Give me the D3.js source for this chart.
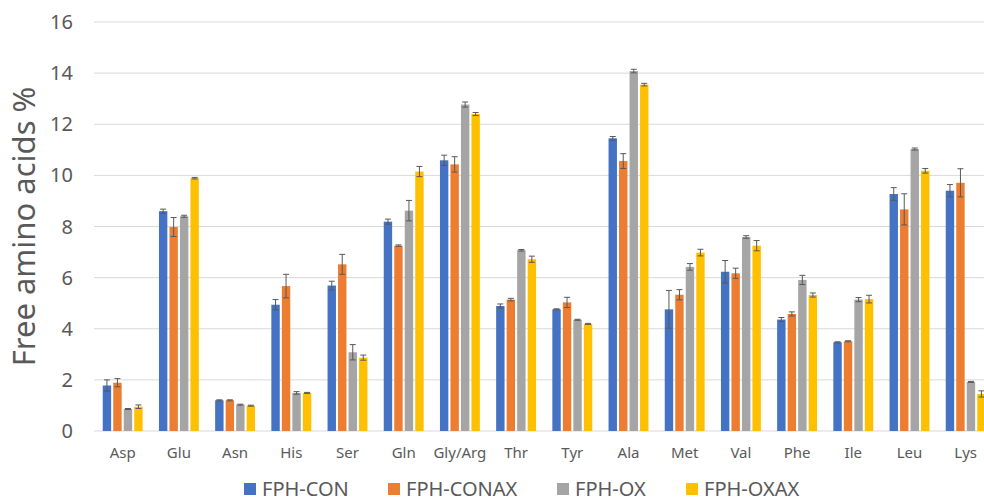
<!DOCTYPE html>
<html>
<head>
<meta charset="utf-8">
<script src="https://cdn.jsdelivr.net/npm/d3@7"></script>
<style>
  body{margin:0;background:#fff}
  svg{display:block;font-family:"Noto Sans",sans-serif}
</style>
</head>
<body>
<div id="chart"><svg></svg></div>
<script>
const categories = ['Asp','Glu','Asn','His','Ser','Gln','Gly/Arg','Thr','Tyr','Ala','Met','Val','Phe','Ile','Leu','Lys']
const seriesNames = ['FPH-CON','FPH-CONAX','FPH-OX','FPH-OXAX']
const con     = [1.78, 8.6, 1.2, 4.94, 5.69, 8.19, 10.59, 4.89, 4.76, 11.45, 4.76, 6.23, 4.36, 3.47, 9.27, 9.4]
const conErr  = [0.22, 0.08, 0.02, 0.2, 0.17, 0.1, 0.2, 0.08, 0.02, 0.07, 0.74, 0.44, 0.08, 0.02, 0.25, 0.24]
const conax   = [1.89, 7.98, 1.2, 5.67, 6.52, 7.25, 10.43, 5.14, 5.03, 10.56, 5.33, 6.17, 4.58, 3.51, 8.67, 9.71]
const conaxErr= [0.16, 0.37, 0.02, 0.46, 0.39, 0.03, 0.3, 0.05, 0.2, 0.29, 0.2, 0.2, 0.08, 0.02, 0.61, 0.55]
const ox      = [0.86, 8.4, 1.03, 1.49, 3.08, 8.62, 12.77, 7.07, 4.35, 14.08, 6.42, 7.59, 5.91, 5.14, 11.03, 1.92]
const oxErr   = [0.02, 0.04, 0.02, 0.05, 0.3, 0.4, 0.1, 0.03, 0.02, 0.07, 0.13, 0.05, 0.18, 0.08, 0.04, 0.02]
const oxax    = [0.95, 9.89, 0.99, 1.49, 2.87, 10.15, 12.4, 6.72, 4.19, 13.55, 6.98, 7.25, 5.32, 5.16, 10.18, 1.45]
const oxaxErr = [0.07, 0.03, 0.02, 0.02, 0.1, 0.2, 0.06, 0.12, 0.02, 0.05, 0.13, 0.2, 0.08, 0.15, 0.09, 0.12]
const yTicks = [0,2,4,6,8,10,12,14,16]
const colors = ['#4472C4','#ED7D31','#A5A5A5','#FFC000']

const width = 984, height = 503
const svg = d3.select('#chart').select('svg').attr('width',width).attr('height',height)

const values = [con, conax, ox, oxax]
const errs = [conErr, conaxErr, oxErr, oxaxErr]

const x = d3.scaleBand().domain(categories).range([94.6, 993.8]).paddingInner(0.29).paddingOuter(0.145)
const xs = d3.scaleBand().domain(seriesNames).range([0, x.bandwidth()]).paddingInner(0.2)
const y = d3.scaleLinear().domain([0,16]).range([431, 22])

// gridlines
svg.append('g').selectAll('line').data(yTicks).enter().append('line')
  .attr('x1',94).attr('x2',width)
  .attr('y1',d=>y(d)).attr('y2',d=>y(d))
  .attr('stroke','#d9d9d9').attr('stroke-width',1)

// y tick labels
svg.append('g').selectAll('text').data(yTicks).enter().append('text')
  .attr('x',73).attr('y',d=>y(d)).attr('dy','0.35em')
  .attr('text-anchor','end').attr('font-size','20px').attr('fill','#595959')
  .text(d=>d)

// y title
svg.append('text')
  .attr('transform','translate(35,'+((y(0)+y(16))/2)+') rotate(-90)')
  .attr('text-anchor','middle').attr('font-size','31px').attr('fill','#595959')
  .text('Free amino acids %')

// bars
const rows = categories.map((c,i)=>seriesNames.map((s,j)=>({cat:c,s:s,j:j,v:values[j][i],e:errs[j][i]})))
const gs = svg.selectAll('.cat').data(rows).enter().append('g')
  .attr('class','cat').attr('transform',(d,i)=>`translate(${x(categories[i])},0)`)

gs.selectAll('rect').data(d=>d).enter().append('rect')
  .attr('x',d=>xs(d.s)).attr('width',xs.bandwidth())
  .attr('y',d=>y(d.v)).attr('height',d=>y(0)-y(d.v))
  .attr('fill',d=>colors[d.j])

// error bars
const eb = gs.selectAll('.err').data(d=>d).enter().append('g').attr('class','err')
  .attr('stroke','#595959').attr('stroke-width',1)
eb.append('line')
  .attr('x1',d=>xs(d.s)+xs.bandwidth()/2).attr('x2',d=>xs(d.s)+xs.bandwidth()/2)
  .attr('y1',d=>y(d.v+d.e)).attr('y2',d=>y(d.v-d.e))
eb.append('line')
  .attr('x1',d=>xs(d.s)+xs.bandwidth()/2-3).attr('x2',d=>xs(d.s)+xs.bandwidth()/2+3)
  .attr('y1',d=>y(d.v+d.e)).attr('y2',d=>y(d.v+d.e))
eb.append('line')
  .attr('x1',d=>xs(d.s)+xs.bandwidth()/2-3).attr('x2',d=>xs(d.s)+xs.bandwidth()/2+3)
  .attr('y1',d=>y(d.v-d.e)).attr('y2',d=>y(d.v-d.e))

// x labels
svg.append('g').selectAll('text').data(categories).enter().append('text')
  .attr('x',d=>x(d)+x.bandwidth()/2).attr('y',453).attr('dy','0.35em')
  .attr('text-anchor','middle').attr('font-size','15px').attr('fill','#595959')
  .text(d=>d)

// legend
const legendX = [244, 388, 557, 686]
const lg = svg.selectAll('.legend').data(seriesNames).enter().append('g')
  .attr('class','legend').attr('transform',(d,i)=>`translate(${legendX[i]},489)`)
lg.append('rect').attr('x',0).attr('y',-6).attr('width',12).attr('height',12)
  .attr('fill',(d,i)=>colors[i])
lg.append('text').attr('x',18).attr('y',0).attr('dy','0.35em')
  .attr('font-size','20px').attr('fill','#595959')
  .text(d=>d)
</script>
</body>
</html>
